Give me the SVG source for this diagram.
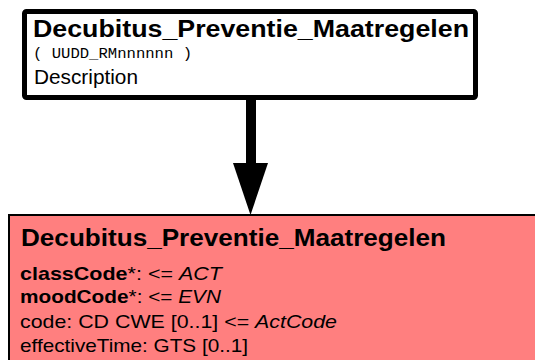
<svg xmlns="http://www.w3.org/2000/svg" width="535" height="360" viewBox="0 0 535 360">
<style>
text{font-family:"Liberation Sans",Arial,sans-serif;fill:#000}
.t{font-size:23px;font-weight:bold}
.m{font-family:"Liberation Mono","Courier New",monospace;font-size:14px}
.d{font-size:21px}
.a{font-size:19px}
.b{font-weight:bold}
.i{font-style:italic}
</style>
<g id="connectors">
<line x1="251" y1="100" x2="251" y2="166" stroke="#000" stroke-width="10"/>
<polygon points="233,163 268,163 250.5,215" fill="#000"/>
</g>
<g id="node-top">
<rect x="24.5" y="11.5" width="451" height="86" rx="2" fill="#fff" stroke="#000" stroke-width="5"/>
<text class="t" x="33" y="37" textLength="436" lengthAdjust="spacingAndGlyphs">Decubitus_Preventie_Maatregelen</text>
<text class="m" x="33" y="58" textLength="159" lengthAdjust="spacingAndGlyphs">( UUDD_RMnnnnnn )</text>
<text class="d" x="34" y="84" textLength="104" lengthAdjust="spacingAndGlyphs">Description</text>
</g>
<g id="node-bottom">
<rect x="9" y="215" width="540" height="160" fill="#ff7f7f" stroke="#000" stroke-width="2"/>
<text class="t" x="21" y="246" textLength="425" lengthAdjust="spacingAndGlyphs">Decubitus_Preventie_Maatregelen</text>
<text class="a" x="20" y="280" textLength="202" lengthAdjust="spacingAndGlyphs"><tspan class="b">classCode</tspan>*: &lt;= <tspan class="i">ACT</tspan></text>
<text class="a" x="20" y="303" textLength="201" lengthAdjust="spacingAndGlyphs"><tspan class="b">moodCode</tspan>*: &lt;= <tspan class="i">EVN</tspan></text>
<text class="a" x="20" y="328" textLength="317" lengthAdjust="spacingAndGlyphs">code: CD CWE [0..1] &lt;= <tspan class="i">ActCode</tspan></text>
<text class="a" x="20" y="352" textLength="228" lengthAdjust="spacingAndGlyphs">effectiveTime: GTS [0..1]</text>
</g>
</svg>
